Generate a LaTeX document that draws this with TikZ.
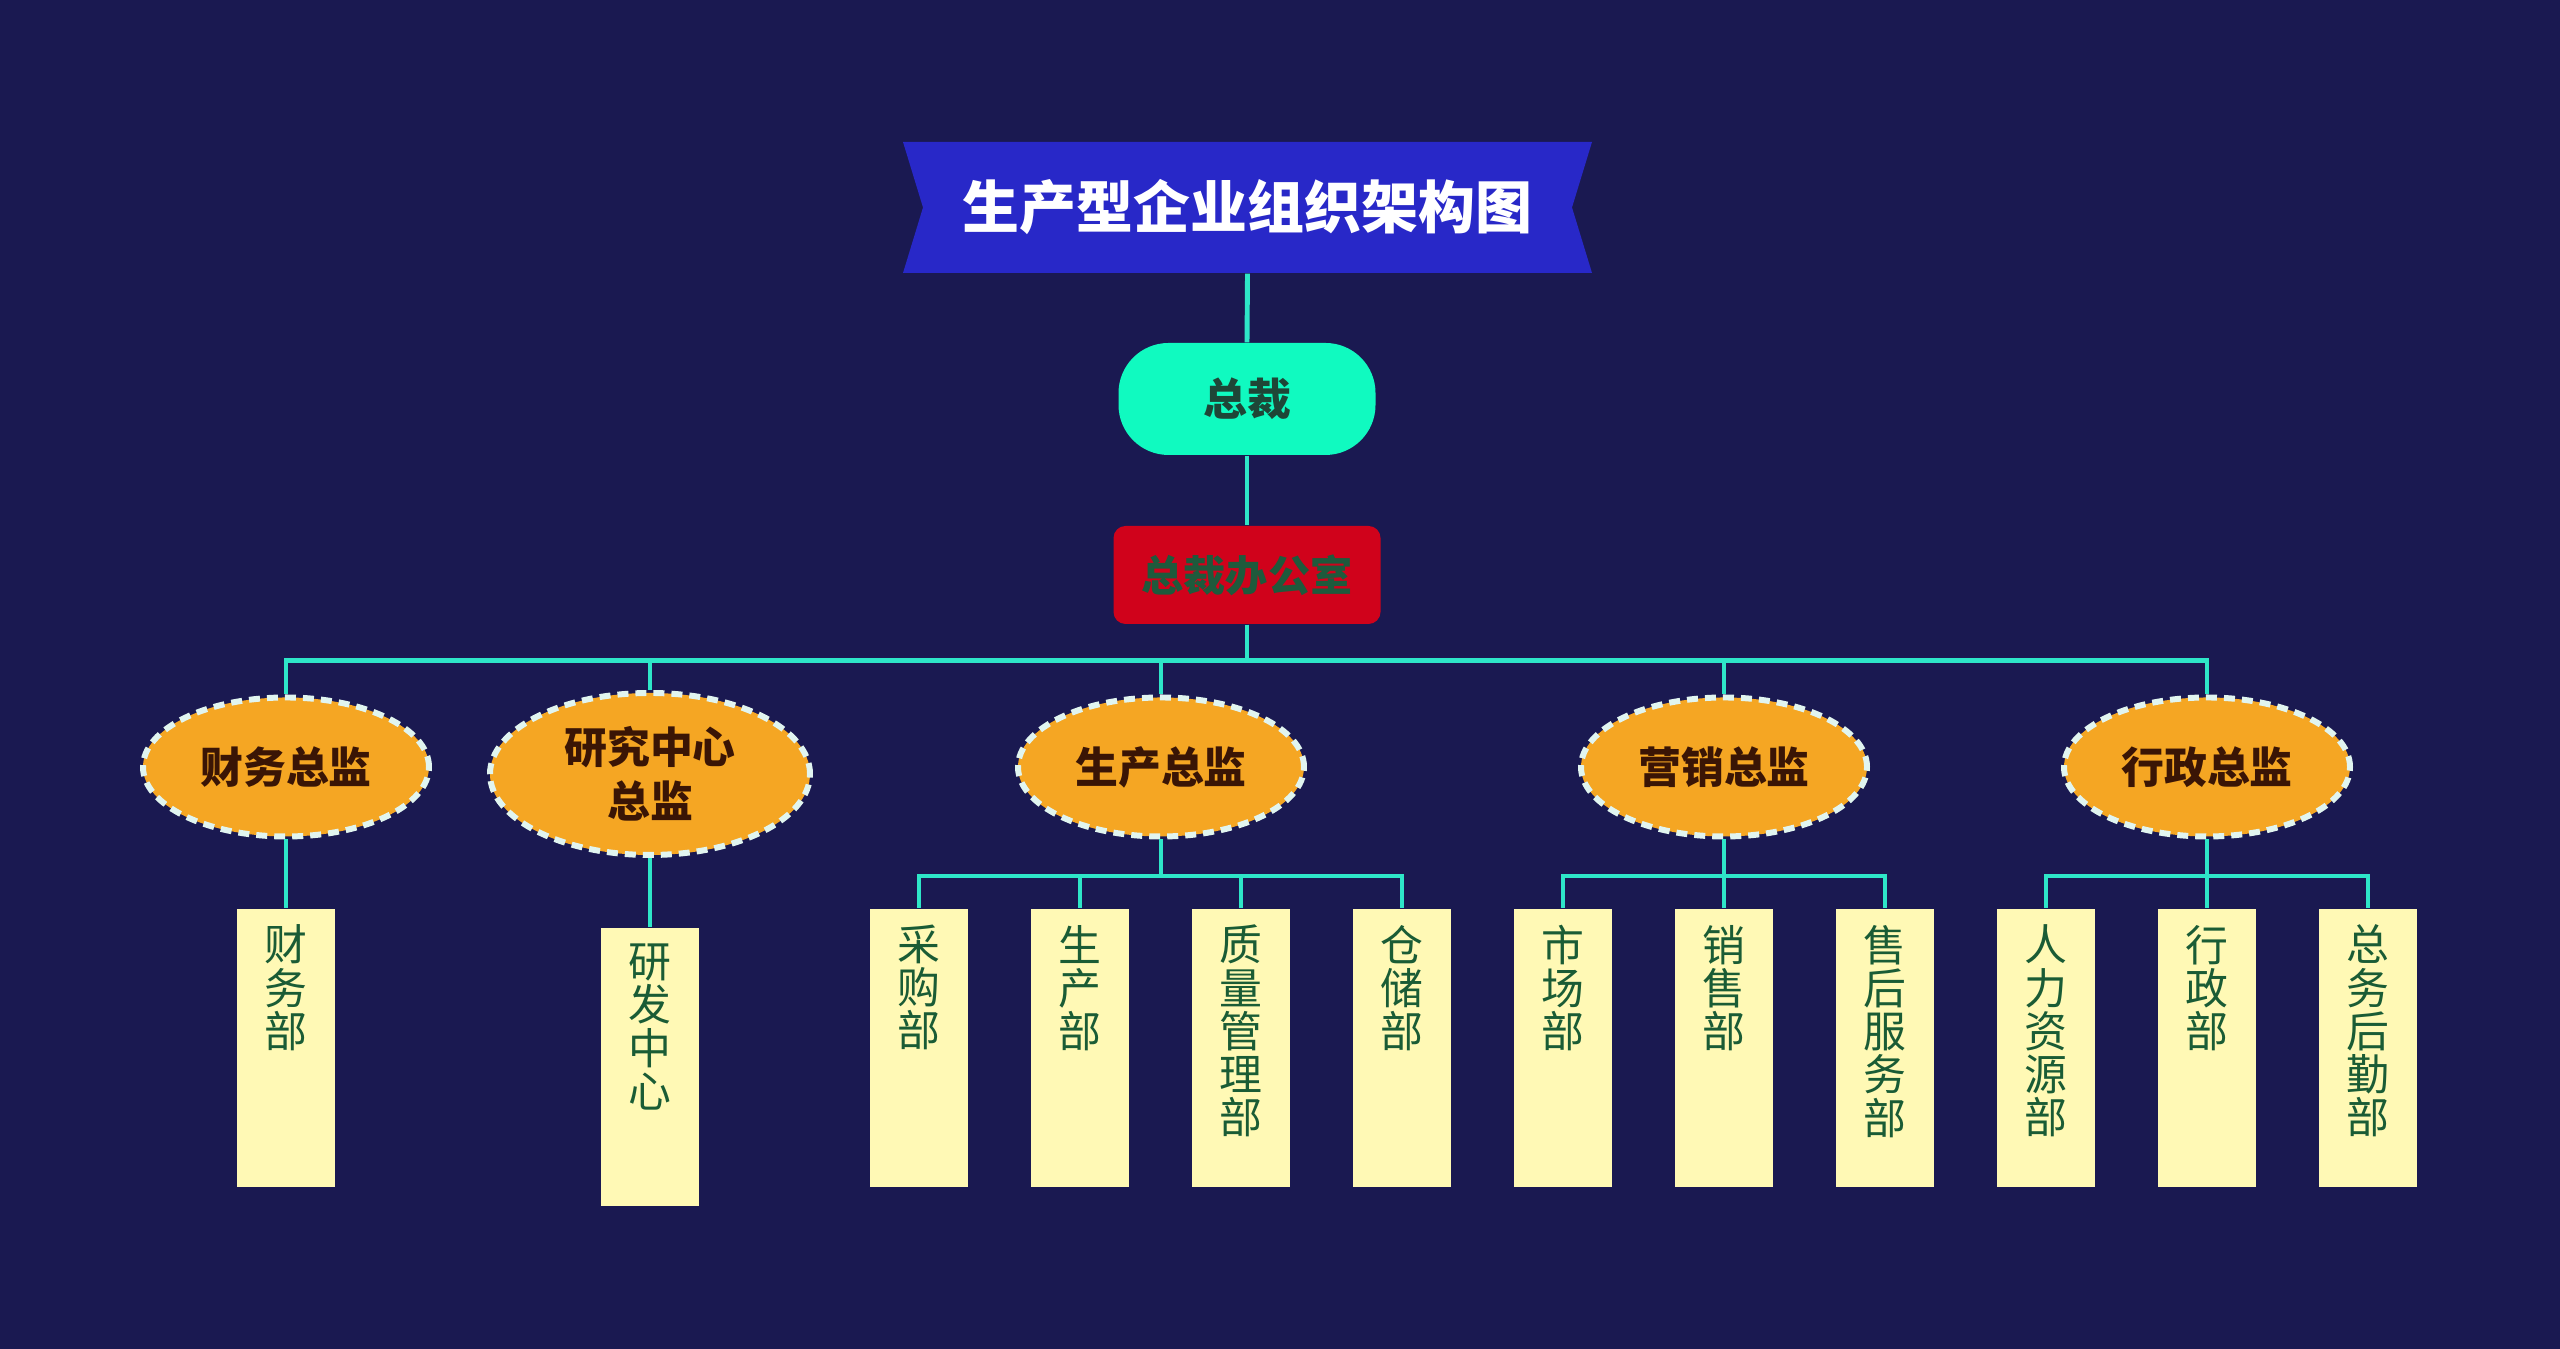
\documentclass[tikz,border=0pt]{standalone}
\usepackage{fontspec}
\setmainfont{Noto Sans CJK SC}
\usetikzlibrary{shapes.geometric}

\definecolor{navybg}{RGB}{26,25,81}
\definecolor{bannerblue}{RGB}{40,40,200}
\definecolor{chiefgreen}{RGB}{16,250,192}
\definecolor{chieftext}{RGB}{30,70,55}
\definecolor{officered}{RGB}{208,2,27}
\definecolor{officetext}{RGB}{30,90,60}
\definecolor{dirorange}{RGB}{245,166,35}
\definecolor{dirdash}{RGB}{225,245,240}
\definecolor{dirtext}{RGB}{58,21,5}
\definecolor{deptyellow}{RGB}{255,249,181}
\definecolor{depttext}{RGB}{26,92,53}
\definecolor{linkteal}{RGB}{46,230,200}

\tikzset{
  link/.style={draw=linkteal, line width=1.4pt},
  banner/.style={minimum width=6.89cm, minimum height=1.31cm, inner sep=0pt,
    text=white, font=\fontsize{16.2}{16.2}\selectfont\bfseries,
    path picture={\fill[bannerblue] (path picture bounding box.north west)
      -- (path picture bounding box.north east) -- ([xshift=-0.2cm]path picture bounding box.east)
      -- (path picture bounding box.south east) -- (path picture bounding box.south west)
      -- ([xshift=0.2cm]path picture bounding box.west) -- cycle;}},
  chief/.style={fill=chiefgreen, rounded corners=0.5cm, minimum width=2.57cm,
    minimum height=1.12cm, text=chieftext, font=\fontsize{12.5}{12.5}\selectfont\bfseries},
  office/.style={fill=officered, rounded corners=0.12cm, minimum width=2.67cm,
    minimum height=0.98cm, text=officetext, font=\fontsize{12}{12}\selectfont\bfseries},
  director/.style={ellipse, fill=dirorange, draw=dirdash, line width=1.7pt,
    dash pattern=on 0.11cm off 0.07cm, minimum width=2.86cm, minimum height=1.39cm,
    inner sep=0pt, align=center, text=dirtext, font=\fontsize{12.2}{15.4}\selectfont\bfseries},
  dept/.style={fill=deptyellow, inner sep=0pt, text=depttext, font=\fontsize{12.2}{12.3}\selectfont},
}

\newcommand{\deptname}[1]{\parbox[c][2.78cm][t]{0.98cm}{\centering\vspace*{0.16cm}#1}}

\begin{document}
\begin{tikzpicture}
  \useasboundingbox[fill=navybg] (0,0) rectangle (25.6,13.49);

  % title and top of the chart
  \node[banner] (title) at (12.475,11.415) {生产型企业组织架构图};
  \node[chief] (ceo) at (12.47,9.50) {总裁};
  \node[office] (gmo) at (12.47,7.74) {总裁办公室};

  % directors
  \node[director] (cfo) at (2.86,5.82) {财务总监};
  \node[director, minimum width=3.2cm, minimum height=1.62cm] (rdo) at (6.50,5.75) {研究中心\\总监};
  \node[director] (pdo) at (11.61,5.82) {生产总监};
  \node[director] (mko) at (17.24,5.82) {营销总监};
  \node[director] (ado) at (22.07,5.82) {行政总监};

  % departments
  \node[dept] (cwb) at (2.86,3.01) {\deptname{财\\务\\部}};
  \node[dept] (yfb) at (6.50,2.82) {\deptname{研\\发\\中\\心}};
  \node[dept] (cgb) at (9.19,3.01) {\deptname{采\\购\\部}};
  \node[dept] (scb) at (10.80,3.01) {\deptname{生\\产\\部}};
  \node[dept] (zlb) at (12.41,3.01) {\deptname{质\\量\\管\\理\\部}};
  \node[dept] (ccb) at (14.02,3.01) {\deptname{仓\\储\\部}};
  \node[dept] (scm) at (15.63,3.01) {\deptname{市\\场\\部}};
  \node[dept] (xsb) at (17.24,3.01) {\deptname{销\\售\\部}};
  \node[dept] (shb) at (18.85,3.01) {\deptname{售\\后\\服\\务\\部}};
  \node[dept] (rlb) at (20.46,3.01) {\deptname{人\\力\\资\\源\\部}};
  \node[dept] (xzb) at (22.07,3.01) {\deptname{行\\政\\部}};
  \node[dept] (zwb) at (23.68,3.01) {\deptname{总\\务\\后\\勤\\部}};

  % connectors
  \draw[link] (title.south) -- (ceo.north);
  \draw[link] (ceo.south) -- (gmo.north);
  \coordinate (hub) at ([yshift=-0.36cm]gmo.south);
  \draw[link] (gmo.south) -- (hub);
  \foreach \d in {cfo,rdo,pdo,mko,ado}
    \draw[link] (hub) -| (\d.north);
  \draw[link] (cfo.south) -- (cwb.north);
  \draw[link] (rdo.south) -- (yfb.north);
  \foreach \d in {cgb,scb,zlb,ccb}
    \draw[link] (pdo.south) -- ++(0,-0.365) -| (\d.north);
  \foreach \d in {scm,xsb,shb}
    \draw[link] (mko.south) -- ++(0,-0.365) -| (\d.north);
  \foreach \d in {rlb,xzb,zwb}
    \draw[link] (ado.south) -- ++(0,-0.365) -| (\d.north);
\end{tikzpicture}
\end{document}
